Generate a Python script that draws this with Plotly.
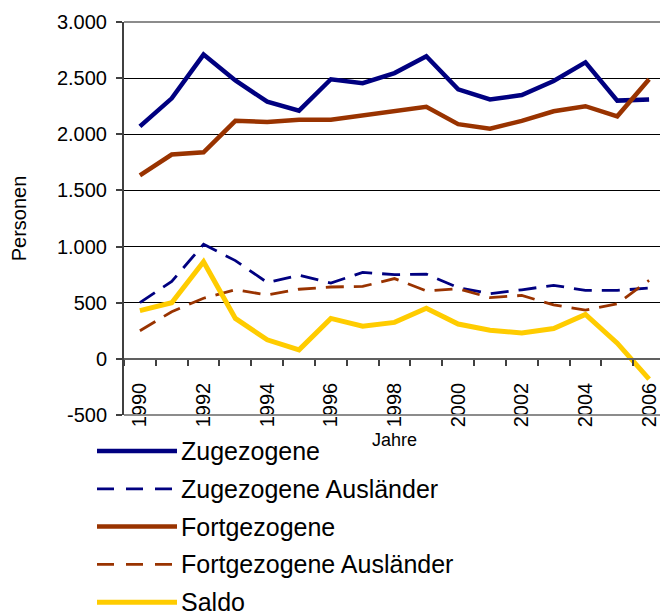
import plotly.graph_objects as go

# ---------------- data ----------------
years = list(range(1990, 2007))
zugezogene = [2070, 2320, 2710, 2480, 2290, 2210, 2490, 2455, 2545, 2695, 2400, 2310, 2350, 2475, 2640, 2300, 2310]
zugezogene_auslaender = [500, 690, 1020, 875, 680, 745, 675, 770, 750, 755, 635, 580, 615, 655, 610, 610, 630]
fortgezogene = [1635, 1820, 1840, 2120, 2110, 2130, 2130, 2165, 2210, 2245, 2090, 2050, 2120, 2205, 2250, 2160, 2490]
fortgezogene_auslaender = [250, 420, 540, 615, 570, 620, 640, 645, 715, 605, 625, 545, 565, 480, 435, 490, 700]
saldo = [430, 500, 865, 360, 170, 80, 360, 290, 325, 450, 310, 255, 230, 270, 395, 140, -180]

series_names = ["Zugezogene", "Zugezogene Ausländer", "Fortgezogene", "Fortgezogene Ausländer", "Saldo"]
y_tick_vals = [-500, 0, 500, 1000, 1500, 2000, 2500, 3000]
y_tick_labels = ["-500", "0", "500", "1.000", "1.500", "2.000", "2.500", "3.000"]
x_tick_vals = years[::2]
y_title = "Personen"
x_title = "Jahre"

# ---------------- layout constants ----------------
OFF = 8  # page body margin
W, H = 668 - OFF, 615 - OFF
ML, MR, MT, MB = 124 - OFF, 3, 22 - OFF, 200
PW, PH = W - ML - MR, H - MT - MB
FONT = "Liberation Sans, Arial, sans-serif"
Y_RANGE = [-500, 3000]

styles = [
    dict(color="#000080", width=4.5, dash="solid"),
    dict(color="#000080", width=2.8, dash="18px,10px"),
    dict(color="#993300", width=4.5, dash="solid"),
    dict(color="#993300", width=2.8, dash="18px,10px"),
    dict(color="#FFCC00", width=5, dash="solid"),
]
legend_dash = ["solid", "17px,12px", "solid", "17px,12px", "solid"]
series = [zugezogene, zugezogene_auslaender, fortgezogene, fortgezogene_auslaender, saldo]

fig = go.Figure()
for name, vals, st in zip(series_names, series, styles):
    fig.add_trace(go.Scatter(x=years, y=vals, name=name, mode="lines", line=st,
                             showlegend=False, hoverinfo="skip"))

fig.update_layout(
    width=W, height=H,
    margin=dict(l=ML, r=MR, t=MT, b=MB, autoexpand=False),
    paper_bgcolor="white", plot_bgcolor="white",
    font=dict(family=FONT, size=20, color="black"),
    showlegend=False,
)

fig.update_yaxes(
    range=Y_RANGE, tickvals=y_tick_vals, ticktext=y_tick_labels,
    ticks="outside", ticklen=6, tickcolor="#404040", tickwidth=1.5,
    showline=True, linecolor="#404040", linewidth=2,
    showgrid=True, gridcolor="black", gridwidth=1, zeroline=False,
    tickfont=dict(size=20), ticklabelstandoff=5,
    title=dict(text=y_title, font=dict(size=20), standoff=27),
)

fig.update_xaxes(
    range=[years[0] - 0.5, years[-1] + 0.5],
    anchor="free", position=(0 - Y_RANGE[0]) / (Y_RANGE[1] - Y_RANGE[0]),
    tickvals=x_tick_vals, ticks="", tickangle=-90,
    showline=True, linecolor="#606060", linewidth=2,
    showgrid=False, zeroline=False,
    minor=dict(ticks="outside", ticklen=6, tick0=years[0] - 0.5, dtick=1,
               tickcolor="#404040", tickwidth=1.5, showgrid=False),
    tickfont=dict(size=20), ticklabelstandoff=15,
    title=dict(text=x_title, font=dict(size=18), standoff=6),
)

# plot frame (top, right, bottom)
frame = dict(type="line", xref="paper", yref="paper", layer="above",
             line=dict(color="#8c8c8c", width=2))
fig.add_shape(**frame, x0=0, x1=1, y0=1, y1=1)
fig.add_shape(**frame, x0=1, x1=1, y0=0, y1=1)
fig.add_shape(**frame, x0=0, x1=1, y0=0, y1=0)

# custom legend (positions given in window pixels)
def px_x(p):
    return (p - OFF - ML) / PW

def px_y(p):
    return (H - MB - (p - OFF)) / PH

row0, step = 451, 37.8
for i, (name, st) in enumerate(zip(series_names, styles)):
    yy = px_y(row0 + i * step)
    fig.add_shape(type="line", xref="paper", yref="paper",
                  x0=px_x(97), x1=px_x(177), y0=yy, y1=yy,
                  line=dict(color=st["color"], width=st["width"], dash=legend_dash[i]))
    fig.add_annotation(xref="paper", yref="paper", x=px_x(179), y=yy,
                       text=name, showarrow=False, xanchor="left", yanchor="middle",
                       font=dict(family=FONT, size=25, color="black"))

fig.write_html("out.html")
